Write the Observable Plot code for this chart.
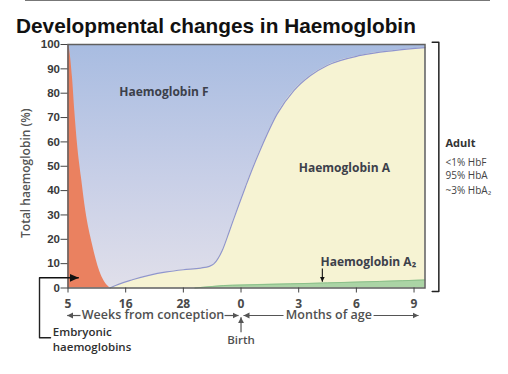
<!DOCTYPE html>
<html><head><meta charset="utf-8">
<script src="https://cdn.jsdelivr.net/npm/d3@7"></script>
<script src="https://cdn.jsdelivr.net/npm/@observablehq/plot@0.6"></script>
<style>
body{margin:0;background:#fff;width:508px;height:374px;overflow:hidden;position:relative}
#title{font-family:"Liberation Sans",Arial,sans-serif;font-weight:bold;font-size:20.8px;line-height:24px;padding:14px 0 0 16px;height:24px;color:#111;white-space:nowrap}
.topline{position:absolute;top:0;left:25px;width:465px;height:1px;background:#777;z-index:5}
#chart svg{display:block}
</style></head><body>
<div id="title">Developmental changes in Haemoglobin</div>
<div id="chart"></div>
<div class="topline"></div>
<script>
// x positions are in "tick index" units: 0 = 5 weeks, 1 = 16 weeks, 2 = 28 weeks, 3 = birth, 4 = 3 mo, 5 = 6 mo, 6 = 9 mo
const xTickLabels = ["5", "16", "28", "0", "3", "6", "9"];
const xTicks = [0, 1, 2, 3, 4, 5, 6];
const yTicks = [0, 10, 20, 30, 40, 50, 60, 70, 80, 90, 100];
const xEnd = 6.19;

// Embryonic haemoglobins (upper edge of red region)
const embX = [0, 0.018, 0.078, 0.118, 0.165, 0.234, 0.309, 0.425, 0.551, 0.697, 0.73];
const embY = [100, 99, 86.3, 72.6, 58.9, 45.2, 31.5, 17.8, 6.8, 0.7, 0];

// Haemoglobin A (upper edge of yellow region)
const hbaX = [0.73, 0.754, 1.13, 1.71, 2.0, 2.3, 2.45, 2.528, 2.674, 2.79, 2.875, 2.962, 3.078, 3.194, 3.338, 3.627, 3.916, 4.205, 4.495, 5.072, 5.649, 6.19];
const hbaY = [0, 0.3, 3.5, 6.6, 7.5, 8.2, 8.9, 9.9, 15.4, 22.8, 28.5, 34.2, 41.6, 48.8, 57.0, 71.5, 81.1, 87.3, 91.4, 95.5, 97.5, 98.7];

// Haemoglobin A2 (upper edge of green band)
const hba2X = [2.2, 2.5, 2.7, 3.0, 3.86, 4.5, 5.4, 6.19];
const hba2Y = [0, 0.6, 1.0, 1.2, 1.7, 2.1, 2.7, 3.3];

// Haemoglobin F fills the full background
const hbfX = [0, xEnd];
const hbfY = [100, 100];

const zip = (xs, ys) => xs.map((x, i) => ({x, y: ys[i]}));
const emb = zip(embX, embY), hba = zip(hbaX, hbaY), hba2 = zip(hba2X, hba2Y), hbf = zip(hbfX, hbfY);

const regionLabels = [
  {x: 0.888, y: 78.8, text: "Haemoglobin F"},
  {x: 4.002, y: 47.6, text: "Haemoglobin A"},
  {x: 4.378, y: 9.2, text: "Haemoglobin A₂"}
];
const axisTitles = [
  {x: 1.474, y: -12.9, text: "Weeks from conception"},
  {x: 4.523, y: -12.9, text: "Months of age"}
];
const greyArrows = [
  {x1: 0.217, y1: -11.3, x2: -0.014, y2: -11.3},
  {x1: 2.714, y1: -11.3, x2: 2.957, y2: -11.3},
  {x1: 3.737, y1: -11.3, x2: 3.043, y2: -11.3},
  {x1: 5.298, y1: -11.3, x2: 6.078, y2: -11.3},
  {x1: 3.0, y1: -18.2, x2: 3.0, y2: -12.0}
];
const embArrow = [{x1: -0.494, y1: 4.19, x2: 0.187, y2: 4.19}];
const a2Arrow = [{x1: 4.41, y1: 8.0, x2: 4.41, y2: 2.6}];
const embBracket = [{x: -0.494, y: 4.19}, {x: -0.494, y: -20.45}, {x: -0.303, y: -20.45}];
const adultBracket = [{x: 6.315, y: 100.9}, {x: 6.43, y: 100.9}, {x: 6.43, y: -1.4}, {x: 6.315, y: -1.4}];
const adultLines = [
  {x: 6.546, y: 50.3, text: "<1% HbF"},
  {x: 6.546, y: 44.8, text: "95% HbA"},
  {x: 6.546, y: 38.7, text: "~3% HbA₂"}
];

const OS = "'Open Sans', sans-serif";
const chart = Plot.plot({
  width: 508, height: 336,
  marginTop: 6, marginBottom: 86.5, marginLeft: 67.5, marginRight: 83.5,
  x: {domain: [0, xEnd]},
  y: {domain: [0, 100]},
  style: {background: "transparent", overflow: "visible"},
  marks: [
    Plot.areaY(hbf, {x: "x", y: "y", fill: "url(#hbfGrad)"}),
    Plot.areaY(hba, {x: "x", y: "y", fill: "#f6f3d3", curve: "monotone-x"}),
    Plot.lineY(hba, {x: "x", y: "y", stroke: "#8f95cf", strokeWidth: 1.2, curve: "monotone-x"}),
    Plot.areaY(hba2, {x: "x", y: "y", fill: "#abd4a5", curve: "monotone-x"}),
    Plot.lineY(hba2, {x: "x", y: "y", stroke: "#8cc08a", strokeWidth: 1, curve: "monotone-x"}),
    Plot.areaY(emb, {x: "x", y: "y", fill: "#ea8160", curve: "monotone-x"}),
    Plot.frame({stroke: "#5f5f5f", strokeWidth: 1.5}),
    Plot.axisY(yTicks, {label: null, tickSize: 7, tickPadding: 1, stroke: "#444", fill: "#3a3a3a",
      fontFamily: "'Liberation Sans', Arial, sans-serif", fontWeight: "bold", fontSize: 11.5}),
    Plot.axisX(xTicks, {label: null, tickFormat: i => xTickLabels[i], tickSize: 5, tickPadding: 6,
      stroke: "#444", fill: "#4a4a4a", fontFamily: OS, fontWeight: 700, fontSize: 12}),
    Plot.text(["Total haemoglobin (%)"], {frameAnchor: "left", text: d => d, rotate: -90, dx: -38.5, dy: 7,
      textAnchor: "middle", lineAnchor: "bottom", fontFamily: OS, fontWeight: 600, fontSize: 12, fill: "#555"}),
    Plot.text(regionLabels, {x: "x", y: "y", text: "text", textAnchor: "start", lineAnchor: "bottom",
      fontFamily: OS, fontWeight: 700, fontSize: 12, fill: "#3c404a"}),
    Plot.text(axisTitles, {x: "x", y: "y", text: "text", textAnchor: "middle", lineAnchor: "bottom",
      fontFamily: OS, fontWeight: 600, fontSize: 12.5, fill: "#505050"}),
    Plot.link(greyArrows, {x1: "x1", y1: "y1", x2: "x2", y2: "y2", stroke: "#555", strokeWidth: 1.2}),
    Plot.text(["Birth"], {x: [3.0], y: [-22.9], text: d => d, textAnchor: "middle", lineAnchor: "bottom",
      fontFamily: OS, fontWeight: 600, fontSize: 11.5, fill: "#505050"}),
    Plot.line(embBracket, {x: "x", y: "y", stroke: "#222", strokeWidth: 1.4}),
    Plot.link(embArrow, {x1: "x1", y1: "y1", x2: "x2", y2: "y2", stroke: "#111", strokeWidth: 1.4}),
    Plot.text(["Embryonic", "haemoglobins"], {x: [-0.264, -0.264], y: [-19.9, -26.0], text: d => d,
      textAnchor: "start", lineAnchor: "bottom", fontFamily: OS, fontWeight: 600, fontSize: 11.5, fill: "#2f2f2f"}),
    Plot.link(a2Arrow, {x1: "x1", y1: "y1", x2: "x2", y2: "y2", stroke: "#111", strokeWidth: 1.1}),
    Plot.line(adultBracket, {x: "x", y: "y", stroke: "#222", strokeWidth: 1.5}),
    Plot.text(["Adult"], {x: [6.546], y: [57.8], text: d => d, textAnchor: "start", lineAnchor: "bottom",
      fontFamily: OS, fontWeight: 700, fontSize: 11, fill: "#333"}),
    Plot.text(adultLines, {x: "x", y: "y", text: "text", textAnchor: "start", lineAnchor: "bottom",
      fontFamily: OS, fontWeight: 400, fontSize: 10, fill: "#444"})
  ]
});

const svg = d3.select(chart);
const defs = svg.insert("defs", ":first-child");
const grad = defs.append("linearGradient").attr("id", "hbfGrad").attr("x1", 0).attr("y1", 0).attr("x2", 0).attr("y2", 1);
grad.append("stop").attr("offset", "0%").attr("stop-color", "#a8bce1");
grad.append("stop").attr("offset", "55%").attr("stop-color", "#c8cfe7");
grad.append("stop").attr("offset", "100%").attr("stop-color", "#e0dfea");
function marker(id, len, half, color) {
  defs.append("marker").attr("id", id).attr("markerUnits", "userSpaceOnUse")
    .attr("markerWidth", len + 2).attr("markerHeight", half * 2 + 2)
    .attr("viewBox", `0 ${-half - 1} ${len + 2} ${half * 2 + 2}`)
    .attr("refX", len).attr("refY", 0).attr("orient", "auto")
    .append("path").attr("d", `M0,${-half}L${len},0L0,${half}Z`).attr("fill", color);
}
marker("triGrey", 6, 3, "#555");
marker("triBig", 9, 4, "#111");
marker("triSmall", 5, 2.5, "#111");
const links = svg.selectAll('g[aria-label="link"]').nodes();
const markerIds = ["triGrey", "triBig", "triSmall"];
links.forEach((g, i) => d3.select(g).selectAll("path").attr("marker-end", `url(#${markerIds[i]})`));

document.getElementById("chart").appendChild(chart);
</script></body></html>
